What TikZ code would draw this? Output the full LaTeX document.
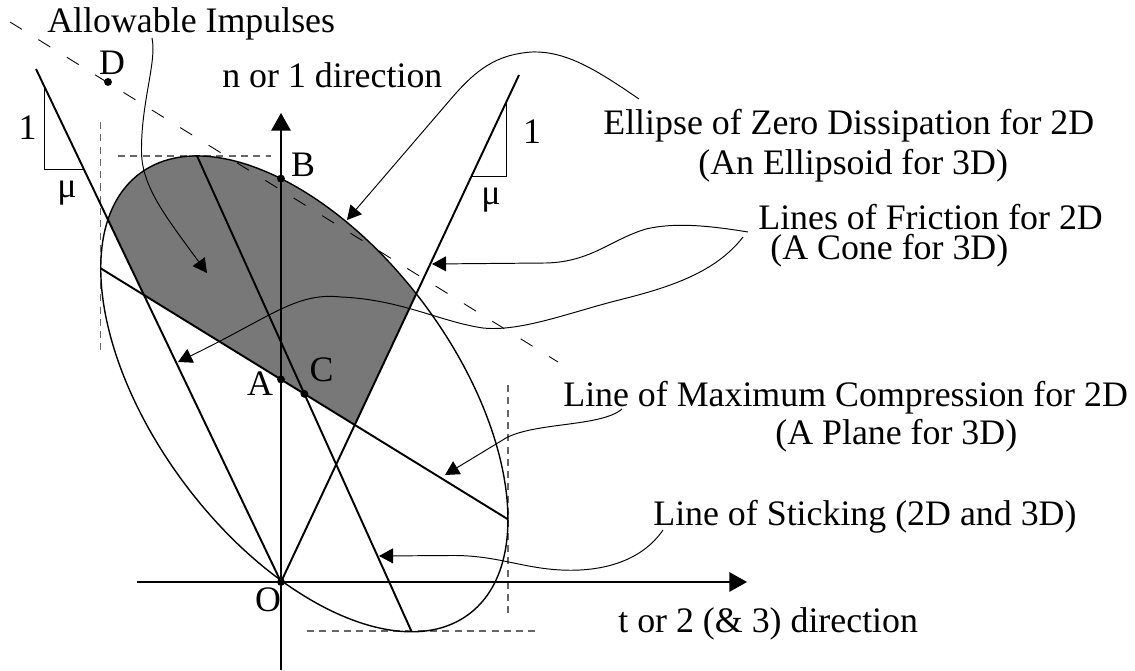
\documentclass[tikz,border=0pt]{standalone}
\usepackage{fontspec}
\setmainfont{Liberation Serif}
\usetikzlibrary{arrows.meta}
\definecolor{impulsegray}{gray}{0.47}

\begin{document}
\begin{tikzpicture}[
    axis/.style={-{Triangle[length=10pt, width=11pt]}, line width=1pt},
    mainline/.style={line width=1.1pt},
    rim/.style={line width=0.8pt},
    callout/.style={-{Triangle[length=8pt, width=8.5pt]}, line width=0.55pt},
    guide/.style={dash pattern=on 4pt off 3pt, black!60, line width=0.6pt},
    lbl/.style={font=\fontsize{20.4pt}{24pt}\selectfont, inner sep=0pt, anchor=base west},
    ptlbl/.style={font=\fontsize{20.4pt}{24pt}\selectfont, inner sep=0pt},
    dot/.style={circle, fill, inner sep=0pt, minimum size=4.5pt}
]
\useasboundingbox (-5.62,-1.76) rectangle (17.08,11.64);

% key points
\coordinate (O) at (0,0);
\coordinate (ctr) at (0.467,3.763);
\coordinate (Ltop) at (-4.9,10.26);
\coordinate (Rtop) at (4.76,10.14);
\coordinate (mL) at (-3.606,6.273);
\coordinate (mR) at (4.54,1.253);
\coordinate (sT) at (-1.679,8.521);
\coordinate (sB) at (2.613,-0.995);
\coordinate (P1) at (intersection of O--Ltop and mL--mR);
\coordinate (P4) at (intersection of O--Rtop and mL--mR);

% allowable impulses
\begin{scope}
  \clip (P1) -- (Ltop) -- (Rtop) -- (P4) -- cycle;
  \fill[impulsegray, rotate around={-53.26:(ctr)}] (ctr) ellipse (5.5 and 2.994);
\end{scope}

% bounding box of the ellipse
\draw[guide] (-3.26,8.52) -- (-0.2,8.52);
\draw[guide] (-3.61,9.2) -- (-3.61,4.64);
\draw[guide] (4.54,3.94) -- (4.54,-0.66);
\draw[guide] (0.52,-0.98) -- (5.12,-0.98);

% dashed line through D
\coordinate (dStart) at (-5.42,11.2);
\coordinate (dEnd) at (5.54,4.4);
\draw[dash pattern=on 8pt off 11pt, line width=0.5pt] (dStart) -- (dEnd);

% axes
\coordinate (nTail) at (0,-1.76);
\coordinate (nTip) at (0,9.38);
\coordinate (tTail) at (-2.88,0);
\coordinate (tTip) at (9.32,0);
\draw[axis] (nTail) -- (nTip);
\draw[axis] (tTail) -- (tTip);
\node[lbl] (nLbl) at (-1.18,9.88) {n or 1 direction};
\node[lbl] (tLbl) at (6.74,-1.0) {t or 2 (\& 3) direction};

% ellipse and lines
\draw[rim, rotate around={-53.26:(ctr)}] (ctr) ellipse (5.5 and 2.994);
\draw[mainline] (O) -- (Ltop);
\draw[mainline] (O) -- (Rtop);
\draw[mainline] (mL) -- (mR);
\draw[mainline] (sT) -- (sB);

% slope triangles
\draw[line width=0.5pt] (-4.73,9.9) -- (-4.73,8.26) -- (-3.94,8.26);
\node[ptlbl] (oneL) at (-5.07,9.09) {1};
\node[ptlbl] (muL) at (-4.28,7.78) {μ};
\draw[line width=0.5pt] (4.5,9.6) -- (4.5,8.12) -- (3.81,8.12);
\node[ptlbl] (oneR) at (5.02,9.0) {1};
\node[ptlbl] (muR) at (4.2,7.64) {μ};

% points
\node[dot] (ptO) at (O) {};
\node[dot] (ptA) at (0,4.051) {};
\node[dot] (ptB) at (0,8.068) {};
\node[dot] (ptC) at (ctr) {};
\node[dot] (ptD) at (-3.46,10.0) {};
\node[ptlbl] (lblO) at (-0.26,-0.36) {O};
\node[ptlbl] (lblA) at (-0.42,3.97) {A};
\node[ptlbl] (lblB) at (0.44,8.34) {B};
\node[ptlbl] (lblC) at (0.81,4.24) {C};
\node[ptlbl] (lblD) at (-3.38,10.39) {D};

% Allowable Impulses
\node[lbl] (allowLbl) at (-4.68,10.98) {Allowable Impulses};
\coordinate (allowTail) at (-2.58,10.88);
\coordinate (allowTip) at (-1.48,6.18);
\draw[callout] (allowTail) .. controls (-2.48,10.4) and (-2.8,9.6) .. (-2.79,8.6)
    .. controls (-2.78,7.9) and (-2.3,7.3) .. (allowTip);

% ellipse of zero dissipation
\node[lbl] (ellLbl) at (6.44,8.94) {Ellipse of Zero Dissipation for 2D};
\node[lbl] (ellLblb) at (8.34,8.14) {(An Ellipsoid for 3D)};
\coordinate (ellTail) at (7.16,9.66);
\coordinate (ellTip) at (1.32,7.24);
\draw[callout] (ellTail) .. controls (6.3,10.25) and (5.7,10.62) .. (5.02,10.6)
    .. controls (4.3,10.55) and (3.9,10.25) .. (3.38,9.64) -- (ellTip);

% lines of friction
\node[lbl] (fricLbl) at (9.54,7.04) {Lines of Friction for 2D};
\node[lbl] (fricLblb) at (9.78,6.44) {(A Cone for 3D)};
\coordinate (fricTail) at (9.34,7.0);
\coordinate (fricTailb) at (9.24,6.9);
\coordinate (fricTipR) at (3.02,6.36);
\coordinate (fricTipL) at (-2.06,4.4);
\draw[callout] (fricTail) .. controls (8.6,7.12) and (7.9,7.2) .. (7.3,7.06)
    .. controls (6.6,6.85) and (6.2,6.4) .. (5.3,6.38) -- (fricTipR);
\draw[callout] (fricTailb) .. controls (8.7,6.2) and (7.8,5.9) .. (6.8,5.65)
    .. controls (5.8,5.4) and (4.8,5.0) .. (4.04,5.08)
    .. controls (3.2,5.2) and (2.4,5.65) .. (1.2,5.7)
    .. controls (0.3,5.8) and (-0.2,5.3) .. (fricTipL);

% line of maximum compression
\node[lbl] (compLbl) at (5.64,3.5) {Line of Maximum Compression for 2D};
\node[lbl] (compLblb) at (9.88,2.74) {(A Plane for 3D)};
\coordinate (compTail) at (6.82,3.46);
\coordinate (compTip) at (3.28,2.14);
\draw[callout] (compTail) .. controls (6.4,3.1) and (5.1,3.2) .. (4.5,2.88) -- (compTip);

% line of sticking
\node[lbl] (stickLbl) at (7.44,1.14) {Line of Sticking (2D and 3D)};
\coordinate (stickTail) at (7.64,1.04);
\coordinate (stickTip) at (1.96,0.52);
\draw[callout] (stickTail) .. controls (7.2,0.4) and (6.4,0.2) .. (5.6,0.24)
    .. controls (4.8,0.28) and (4.3,0.54) .. (3.4,0.53) -- (stickTip);

\end{tikzpicture}
\end{document}
